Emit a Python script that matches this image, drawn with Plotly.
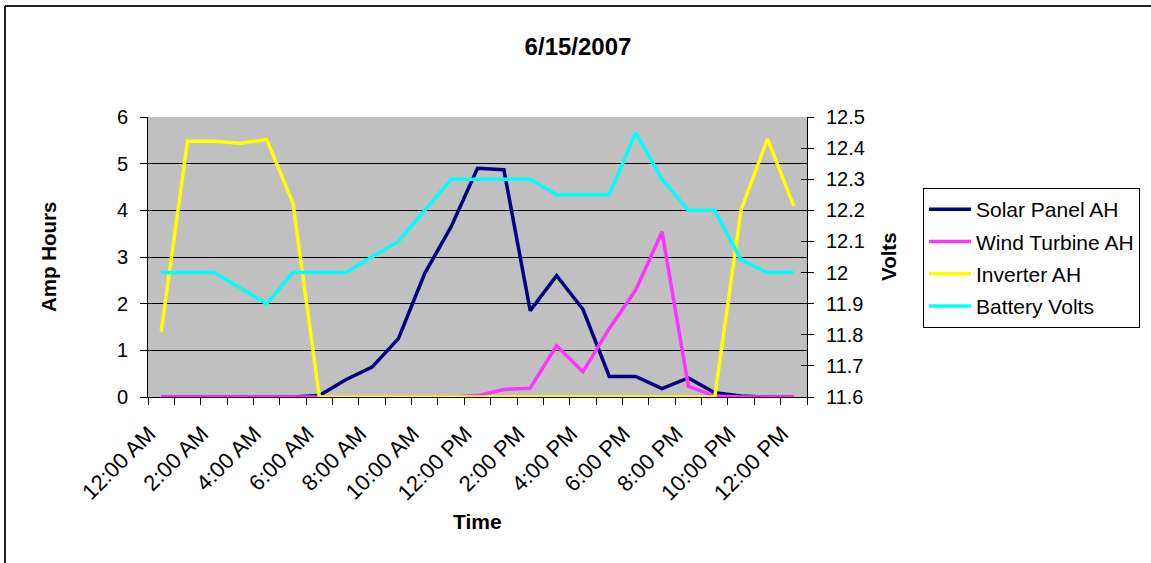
import plotly.graph_objects as go

# Hourly readings for 6/15/2007 (25 samples, midnight to midnight)
hours = list(range(25))
time_labels = ["12:00 AM", "1:00 AM", "2:00 AM", "3:00 AM", "4:00 AM", "5:00 AM",
               "6:00 AM", "7:00 AM", "8:00 AM", "9:00 AM", "10:00 AM", "11:00 AM",
               "12:00 PM", "1:00 PM", "2:00 PM", "3:00 PM", "4:00 PM", "5:00 PM",
               "6:00 PM", "7:00 PM", "8:00 PM", "9:00 PM", "10:00 PM", "11:00 PM",
               "12:00 PM"]

solar_ah = [0, 0, 0, 0, 0, 0.0, 0.03, 0.37, 0.64, 1.25, 2.65, 3.65, 4.9,
            4.87, 1.85, 2.6, 1.88, 0.44, 0.44, 0.18, 0.41, 0.09, 0.02, 0, 0]
wind_ah = [0, 0, 0, 0, 0, 0, 0, 0, 0, 0, 0, 0, 0.03,
           0.16, 0.19, 1.1, 0.54, 1.47, 2.29, 3.54, 0.23, 0.02, 0, 0, 0]
inverter_ah = [1.4, 5.48, 5.48, 5.44, 5.52, 4.15, 0, 0, 0, 0, 0, 0, 0,
               0, 0, 0, 0, 0, 0, 0, 0, 0, 4.01, 5.53, 4.09]
battery_v = [12.0, 12.0, 12.0, 11.95, 11.9, 12.0, 12.0, 12.0, 12.05, 12.1, 12.2, 12.3, 12.3,
             12.3, 12.3, 12.25, 12.25, 12.25, 12.45, 12.3, 12.2, 12.2, 12.04, 12.0, 12.0]

FONT = "Liberation Sans, Arial, sans-serif"
LW = 3.5

fig = go.Figure()
fig.add_trace(go.Scatter(x=hours, y=solar_ah, mode="lines", name="Solar Panel AH",
                         legendgroup="g1", line=dict(color="#000080", width=LW)))
fig.add_trace(go.Scatter(x=hours, y=wind_ah, mode="lines", name="Wind Turbine AH",
                         legendgroup="g2", line=dict(color="#FF33FF", width=LW)))
fig.add_trace(go.Scatter(x=hours, y=inverter_ah, mode="lines", name="Inverter AH",
                         legendgroup="g3", line=dict(color="#FFFF00", width=LW)))
fig.add_trace(go.Scatter(x=hours, y=battery_v, mode="lines", name="Battery Volts",
                         legendgroup="g4", line=dict(color="#00FFFF", width=LW),
                         yaxis="y2"))
# empty trace that carries the inner half of the right-axis cross ticks
fig.add_trace(go.Scatter(x=[None], y=[None], yaxis="y3", showlegend=False,
                         hoverinfo="skip"))

# plot-area edges in pixels, used to place frame and labels in paper units
W, H = 1151, 563
L, R, T, B = 148, 807, 117, 397
def px_x(p):
    return (p - L) / (R - L)
def px_y(p):
    return (B - p) / (B - T)

shapes = [
    dict(type="line", xref="paper", yref="paper", x0=px_x(5), x1=px_x(W),
         y0=px_y(6), y1=px_y(6), line=dict(color="#222222", width=2)),
    dict(type="line", xref="paper", yref="paper", x0=px_x(5), x1=px_x(5),
         y0=px_y(6), y1=px_y(H), line=dict(color="#222222", width=2)),
]

annotations = [
    dict(text="<b>Amp Hours</b>", xref="paper", yref="paper", x=px_x(48), y=0.5,
         xanchor="center", yanchor="middle", textangle=-90, showarrow=False,
         font=dict(family=FONT, size=20.5, color="black")),
    dict(text="<b>Volts</b>", xref="paper", yref="paper", x=px_x(888), y=0.5,
         xanchor="center", yanchor="middle", textangle=-90, showarrow=False,
         font=dict(family=FONT, size=20.5, color="black")),
    dict(text="<b>Time</b>", xref="paper", yref="paper", x=px_x(477), y=px_y(521),
         xanchor="center", yanchor="middle", showarrow=False,
         font=dict(family=FONT, size=21, color="black")),
]

fig.update_layout(
    width=W, height=H,
    margin=dict(l=L, r=W - R, t=T, b=H - B),
    paper_bgcolor="white", plot_bgcolor="#C0C0C0",
    font=dict(family=FONT, size=20, color="black"),
    title=dict(text="<b>6/15/2007</b>", x=578 / W, xref="container", xanchor="center",
               y=1 - 47 / H, yref="container", yanchor="middle",
               font=dict(family=FONT, size=24, color="black")),
    xaxis=dict(range=[-0.5, 24.5], tickmode="array", tickvals=hours[::2],
               ticktext=time_labels[::2], tickangle=-45, ticks="",
               showline=True, linecolor="black", linewidth=1, showgrid=False,
               zeroline=False, ticklabelstandoff=14, ticklabelshift=-12,
               minor=dict(tickmode="linear", tick0=-0.5, dtick=1, ticks="outside",
                          ticklen=7, tickcolor="black", showgrid=False),
               tickfont=dict(family=FONT, size=22)),
    yaxis=dict(range=[0, 6], dtick=1, ticks="outside", ticklen=7, tickcolor="black",
               showline=True, linecolor="black", linewidth=1, showgrid=True,
               gridcolor="black", gridwidth=1, zeroline=False, ticklabelstandoff=8,
               tickfont=dict(family=FONT, size=20)),
    yaxis2=dict(range=[11.6, 12.5], dtick=0.1, tick0=11.6, overlaying="y", side="right",
                ticks="outside", ticklen=6, tickcolor="black", showline=True,
                linecolor="black", linewidth=1, showgrid=False, zeroline=False,
                ticklabelstandoff=8, tickfont=dict(family=FONT, size=20)),
    yaxis3=dict(range=[11.6, 12.5], dtick=0.1, tick0=11.6, overlaying="y", side="right",
                ticks="inside", ticklen=6, tickcolor="black", showline=False,
                showgrid=False, zeroline=False, showticklabels=False),
    legend=dict(x=923 / W, y=1 - 188 / H, xref="container", yref="container",
                xanchor="left", yanchor="top",
                bordercolor="black", borderwidth=1, bgcolor="white",
                font=dict(family=FONT, size=21, color="black"),
                itemwidth=42, tracegroupgap=2, traceorder="grouped"),
    shapes=shapes,
    annotations=annotations,
    showlegend=True,
)

fig.write_html("out.html")
